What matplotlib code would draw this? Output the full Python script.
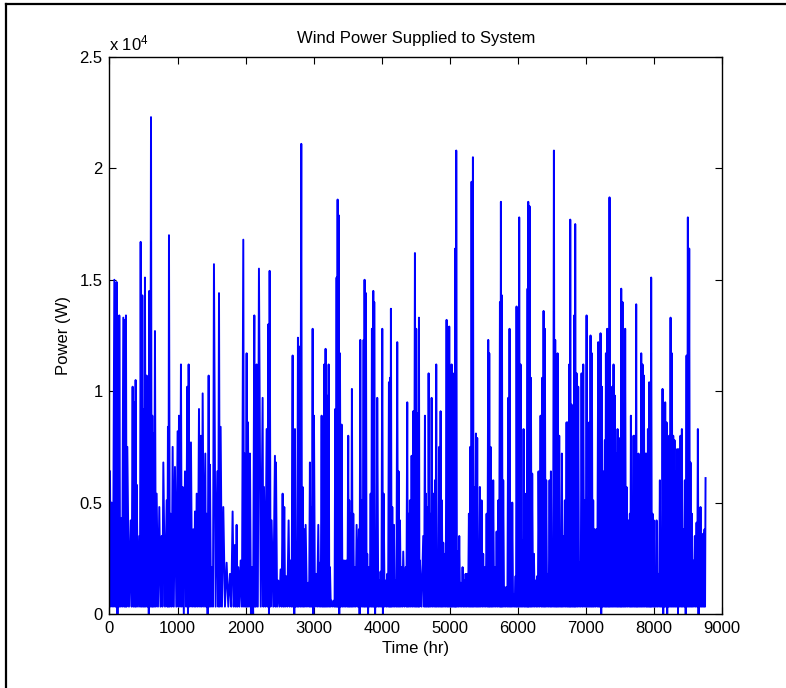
import numpy as np
import matplotlib
matplotlib.use("Agg")
import matplotlib.pyplot as plt
from matplotlib.ticker import FuncFormatter, MultipleLocator

plt.rcParams['font.family'] = ['Liberation Sans', 'DejaVu Sans']
plt.rcParams['mathtext.fontset'] = 'custom'
plt.rcParams['mathtext.rm'] = 'Liberation Sans'
plt.rcParams['mathtext.it'] = 'Liberation Sans'

# Local maxima of hourly wind power (hour of year, power in units of 1e4 W)
peak_hours = [
    7, 32, 71, 95, 105, 130, 144, 169, 203, 228, 242, 262, 311, 340, 365, 384, 399, 438, 458, 482,
    502, 521, 546, 570, 585, 610, 629, 644, 668, 693, 732, 766, 791, 840, 859, 874, 899, 928, 962, 1001,
    1021, 1050, 1075, 1109, 1143, 1163, 1197, 1231, 1256, 1281, 1315, 1344, 1369, 1408, 1427, 1457, 1476, 1506, 1535, 1584,
    1609, 1633, 1672, 1721, 1770, 1809, 1844, 1868, 1893, 1927, 1966, 1986, 2015, 2035, 2064, 2093, 2128, 2142, 2162, 2196,
    2250, 2270, 2309, 2333, 2353, 2382, 2431, 2446, 2480, 2514, 2544, 2568, 2593, 2632, 2661, 2691, 2705, 2725, 2749, 2769,
    2789, 2818, 2838, 2862, 2882, 2921, 2945, 2960, 2985, 3004, 3034, 3068, 3092, 3117, 3136, 3156, 3175, 3195, 3220, 3239,
    3264, 3298, 3317, 3337, 3352, 3366, 3386, 3411, 3435, 3459, 3484, 3508, 3523, 3543, 3562, 3582, 3606, 3631, 3665, 3685,
    3709, 3734, 3748, 3768, 3787, 3812, 3837, 3856, 3876, 3890, 3915, 3934, 3964, 3983, 4008, 4028, 4057, 4081, 4106, 4121,
    4135, 4155, 4179, 4204, 4228, 4248, 4268, 4292, 4316, 4351, 4375, 4390, 4414, 4439, 4463, 4488, 4507, 4527, 4547, 4561,
    4610, 4635, 4649, 4674, 4689, 4708, 4733, 4757, 4782, 4801, 4821, 4845, 4865, 4884, 4904, 4928, 4953, 4973, 4992, 5012,
    5027, 5046, 5066, 5080, 5095, 5115, 5139, 5164, 5188, 5213, 5232, 5257, 5281, 5301, 5320, 5340, 5359, 5384, 5403, 5423,
    5442, 5467, 5491, 5516, 5541, 5565, 5580, 5599, 5619, 5638, 5663, 5688, 5712, 5737, 5751, 5766, 5785, 5810, 5834, 5859,
    5878, 5898, 5918, 5942, 5967, 5981, 6001, 6020, 6040, 6060, 6084, 6104, 6123, 6143, 6153, 6172, 6192, 6211, 6236, 6260,
    6285, 6304, 6334, 6358, 6378, 6397, 6417, 6442, 6466, 6486, 6505, 6530, 6549, 6569, 6584, 6608, 6628, 6647, 6667, 6691,
    6716, 6735, 6755, 6770, 6789, 6809, 6828, 6843, 6863, 6887, 6912, 6936, 6961, 6985, 7010, 7029, 7049, 7068, 7088, 7107,
    7127, 7152, 7181, 7196, 7215, 7235, 7254, 7279, 7294, 7313, 7333, 7347, 7367, 7387, 7406, 7426, 7450, 7465, 7485, 7504,
    7519, 7538, 7558, 7577, 7597, 7622, 7646, 7661, 7680, 7700, 7720, 7739, 7754, 7773, 7793, 7813, 7832, 7852, 7876, 7896,
    7911, 7930, 7945, 7959, 7979, 7999, 8018, 8038, 8062, 8087, 8106, 8126, 8146, 8165, 8185, 8204, 8224, 8244, 8263, 8283,
    8302, 8322, 8341, 8366, 8390, 8410, 8430, 8454, 8479, 8498, 8518, 8537, 8557, 8576, 8601, 8626, 8645, 8665, 8684, 8704,
    8723, 8743, 8758,
]
peak_power = [
    0.64, 0.50, 1.50, 1.25, 1.49, 1.02, 1.34, 0.43, 1.33, 1.32, 1.34, 0.75, 0.42, 1.02, 0.95, 1.05, 0.58, 0.35, 1.67, 1.43,
    0.92, 1.51, 1.07, 0.83, 1.45, 2.23, 0.89, 0.81, 1.27, 0.54, 0.48, 0.35, 0.68, 0.51, 0.84, 1.70, 0.45, 0.75, 0.66, 0.82,
    0.89, 1.12, 0.57, 0.64, 1.02, 1.12, 0.77, 0.38, 0.46, 0.54, 0.92, 0.80, 0.99, 0.72, 0.45, 1.07, 0.67, 0.21, 1.57, 0.64,
    1.44, 0.84, 0.48, 0.23, 0.18, 0.46, 0.31, 0.40, 0.21, 0.24, 1.68, 0.72, 1.17, 0.86, 0.72, 0.21, 1.34, 0.38, 1.12, 1.55,
    0.97, 0.57, 0.83, 1.30, 1.54, 0.42, 0.71, 0.68, 0.15, 0.20, 0.54, 0.48, 0.17, 0.42, 0.24, 1.16, 0.80, 0.83, 0.32, 1.24,
    1.20, 2.11, 0.57, 0.38, 0.40, 0.14, 0.68, 0.48, 1.28, 0.89, 0.18, 0.40, 0.23, 0.89, 0.64, 1.12, 1.19, 0.98, 1.12, 0.21,
    0.06, 0.06, 0.92, 1.51, 1.86, 1.79, 1.17, 0.85, 0.24, 0.24, 0.24, 0.80, 0.51, 0.45, 1.01, 0.45, 0.21, 0.40, 0.38, 1.23,
    0.51, 1.23, 1.50, 1.44, 0.27, 0.21, 0.54, 1.28, 1.45, 1.40, 0.27, 0.97, 0.15, 0.19, 1.28, 0.54, 0.15, 0.18, 1.04, 1.06,
    1.37, 0.48, 0.40, 0.15, 1.22, 0.64, 0.42, 0.21, 0.28, 0.21, 0.95, 0.45, 0.51, 0.71, 0.91, 1.62, 1.28, 0.90, 1.33, 0.24,
    0.35, 0.89, 0.54, 0.48, 1.08, 0.45, 0.97, 0.54, 0.60, 1.12, 0.21, 0.75, 0.91, 0.51, 0.32, 0.27, 1.32, 1.23, 1.29, 0.42,
    1.12, 1.08, 0.32, 1.64, 2.08, 0.28, 0.35, 0.14, 0.21, 0.15, 0.18, 0.18, 0.45, 0.75, 1.94, 2.05, 0.57, 0.81, 0.79, 0.27,
    0.57, 0.51, 0.27, 0.21, 0.45, 1.23, 1.17, 0.75, 0.48, 0.60, 0.21, 0.37, 0.51, 1.40, 1.85, 1.43, 0.60, 0.12, 0.12, 0.97,
    1.28, 0.45, 0.50, 0.09, 0.17, 1.38, 0.23, 1.78, 1.12, 0.33, 0.83, 0.54, 0.27, 1.46, 1.85, 1.83, 1.06, 0.63, 0.27, 0.15,
    0.17, 0.64, 0.89, 1.06, 1.36, 1.28, 0.60, 0.18, 0.60, 0.64, 0.28, 2.08, 1.23, 0.18, 1.17, 0.80, 0.35, 0.72, 0.35, 0.51,
    0.86, 0.86, 1.12, 1.77, 0.94, 0.48, 1.34, 1.75, 1.08, 1.02, 0.23, 1.08, 1.12, 0.51, 1.34, 0.41, 0.86, 1.25, 1.17, 0.51,
    0.38, 0.38, 1.22, 0.92, 1.26, 1.02, 0.64, 0.78, 1.17, 1.28, 0.72, 1.87, 1.01, 1.02, 1.12, 0.98, 0.72, 0.83, 0.79, 0.75,
    1.46, 1.40, 0.94, 1.28, 0.57, 0.42, 0.45, 0.89, 0.21, 0.80, 0.80, 1.39, 0.68, 0.72, 0.18, 1.17, 1.12, 1.07, 0.72, 0.72,
    0.83, 1.04, 0.92, 1.51, 0.45, 0.42, 0.18, 0.42, 0.18, 0.60, 0.20, 1.01, 0.57, 0.95, 0.86, 0.36, 0.80, 1.33, 1.17, 0.80,
    0.78, 0.64, 0.74, 0.74, 0.80, 0.83, 0.38, 0.60, 1.16, 1.78, 1.64, 0.68, 0.45, 0.24, 0.35, 0.41, 0.83, 0.35, 0.48, 0.35,
    0.36, 0.38, 0.61,
]

# Hours where the output drops to zero, and the usual low-wind floor (W)
zero_hours = [123, 586, 1081, 1143, 1453, 2071, 2102, 2349, 2719, 2998, 3369, 3678,
              3802, 3894, 4018, 7233, 8130, 8191, 8345, 8470, 8655]
floor_power = 330.0

# Assemble the time series: each peak is followed by a return to the floor
ph = np.asarray(peak_hours, dtype=float)
pp = np.asarray(peak_power, dtype=float) * 1e4
trough_t = (ph[:-1] + ph[1:]) / 2.0
trough_v = np.full(trough_t.shape, floor_power)
for z in zero_hours:
    trough_v[np.argmin(np.abs(trough_t - z))] = 0.0

t = np.empty(ph.size + trough_t.size)
p = np.empty_like(t)
t[0::2], p[0::2] = ph, pp
t[1::2], p[1::2] = trough_t, trough_v

fig = plt.figure(figsize=(7.86, 6.88), dpi=100)
fig.patch.set_facecolor('white')
ax = fig.add_axes([0.1393, 0.1076, 0.7793, 0.8096])

ax.plot(t, p, color='#0000ff', lw=1.4)

ax.set_xlim(0, 9000)
ax.set_ylim(0, 25000)
ax.xaxis.set_major_locator(MultipleLocator(1000))
ax.yaxis.set_major_locator(MultipleLocator(5000))
ax.yaxis.set_major_formatter(FuncFormatter(lambda v, pos: f"{v / 1e4:g}"))
ax.tick_params(direction='in', length=5, width=0.8, top=True, right=True,
               labelsize=12, pad=5, colors='black')
for s in ax.spines.values():
    s.set_linewidth(1.0)

ax.set_title('Wind Power Supplied to System', fontsize=12, pad=10)
ax.set_xlabel('Time (hr)', fontsize=12, labelpad=4)
ax.set_ylabel('Power (W)', fontsize=12, labelpad=6)
ax.text(0.0, 1.006, r'x 10$^{4}$', transform=ax.transAxes, ha='left', va='bottom',
        fontsize=12)

# Page frame along the left and top edges
fig.add_artist(plt.Line2D([0.0076, 0.0076], [0.0, 0.9935], transform=fig.transFigure,
                          color='black', lw=1.6))
fig.add_artist(plt.Line2D([0.0076, 1.0], [0.9935, 0.9935], transform=fig.transFigure,
                          color='black', lw=1.6))

fig.savefig('out.png', dpi=100)
